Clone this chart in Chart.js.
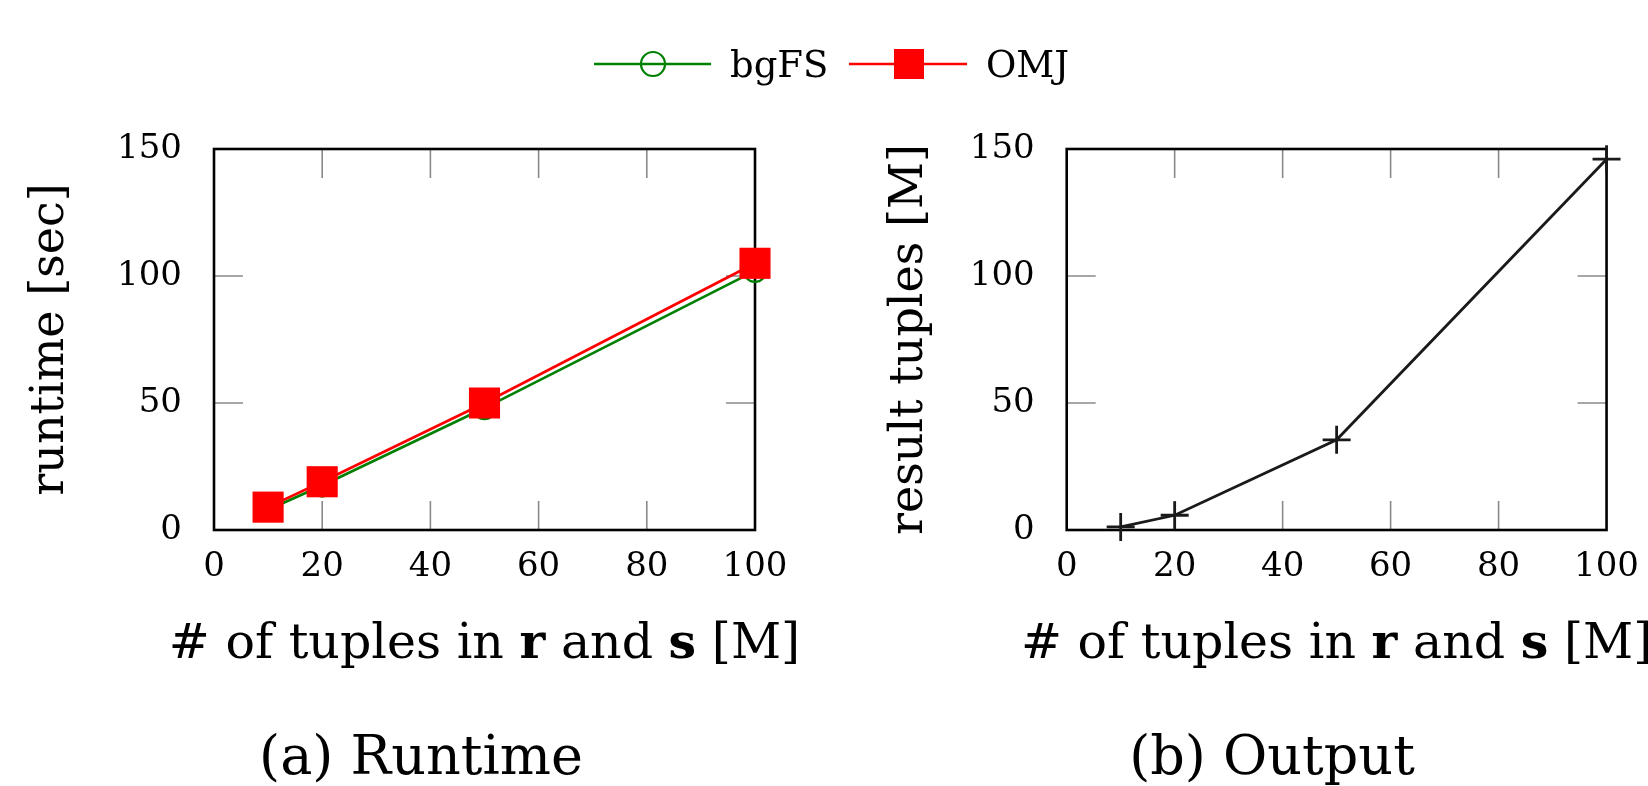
<!DOCTYPE html>
<html>
<head>
<meta charset="utf-8">
<script src="https://cdn.jsdelivr.net/npm/chart.js@4/dist/chart.umd.min.js"></script>
<style>
  html, body { margin: 0; padding: 0; background: #fff; }
  body { width: 1648px; height: 786px; position: relative; overflow: hidden; font-family: "DejaVu Serif", serif; }
  canvas { position: absolute; top: 0; }
  #c1 { left: 0; }
  #c2 { left: 824px; }
  .cap { position: absolute; top: 729px; font-size: 54px; line-height: 1; white-space: nowrap; color: #000; transform: translateX(-50%); }
  #legend { position: absolute; left: 0; top: 0; }
</style>
</head>
<body>
<canvas id="c1" width="824" height="786"></canvas>
<canvas id="c2" width="824" height="786"></canvas>
<svg id="legend" width="1648" height="120"></svg>
<div class="cap" id="capA" style="left:421px">(a) Runtime</div>
<div class="cap" id="capB" style="left:1272px">(b) Output</div>
<script>
// ---- data ----
const tupleCounts = [10, 20, 50, 100];          // # of tuples in r and s [M]
const bgfsRuntime = [8, 17.5, 48, 102];         // sec
const omjRuntime  = [9, 19, 50, 105];           // sec
const resultTuples = [1.2, 5.8, 35.5, 146];     // [M]
const seriesNames = ['bgFS', 'OMJ'];
const xTickStep = 20;
const yTickStep = 50;
// x-axis title, with the bold parts marked
const xTitleParts = [['# of tuples in ', false], ['r', true], [' and ', false], ['s', true], [' [M]', false]];
const xTitle = xTitleParts.map(p => p[0]).join('');
const yTitleA = 'runtime [sec]';
const yTitleB = 'result tuples [M]';

const FONT = '"DejaVu Serif", serif';
Chart.defaults.font.family = FONT;
Chart.defaults.color = '#000';

const pts = (ys) => tupleCounts.map((x, i) => ({x: x, y: ys[i]}));

const framePlugin = {
  id: 'frame',
  beforeDatasetsDraw(chart) {
    const {ctx, chartArea: a, scales: {x, y}} = chart;
    const L = 29;
    ctx.save();
    ctx.strokeStyle = '#8a8a8a';
    ctx.lineWidth = 1.6;
    ctx.beginPath();
    x.ticks.forEach(t => {
      if (t.value > x.min && t.value < x.max) {
        const px = x.getPixelForValue(t.value);
        ctx.moveTo(px, a.bottom); ctx.lineTo(px, a.bottom - L);
        ctx.moveTo(px, a.top); ctx.lineTo(px, a.top + L);
      }
    });
    y.ticks.forEach(t => {
      if (t.value > y.min && t.value < y.max) {
        const py = y.getPixelForValue(t.value);
        ctx.moveTo(a.left, py); ctx.lineTo(a.left + L, py);
        ctx.moveTo(a.right, py); ctx.lineTo(a.right - L, py);
      }
    });
    ctx.stroke();
    ctx.strokeStyle = '#000';
    ctx.lineWidth = 2.6;
    ctx.strokeRect(a.left, a.top, a.right - a.left, a.bottom - a.top);
    ctx.restore();
  }
};

// draws the x-axis title (mixed regular / bold) without width squeezing
const xTitlePlugin = {
  id: 'xTitleRich',
  afterDraw(chart) {
    const {ctx, scales: {x}} = chart;
    const size = 49;
    const cx = (x.left + x.right) / 2;
    const cy = 645;
    ctx.save();
    ctx.fillStyle = '#000';
    ctx.textBaseline = 'middle';
    ctx.textAlign = 'left';
    const fontOf = (b) => (b ? 'bold ' : '') + size + 'px ' + FONT;
    let total = 0;
    xTitleParts.forEach(([t, b]) => { ctx.font = fontOf(b); total += ctx.measureText(t).width; });
    let px = cx - total / 2;
    xTitleParts.forEach(([t, b]) => { ctx.font = fontOf(b); ctx.fillText(t, px, cy); px += ctx.measureText(t).width; });
    ctx.restore();
  }
};

function scalesFor(yTitle, yAxisWidth, yTitlePad) {
  return {
    x: {
      type: 'linear', min: 0, max: 100,
      grid: { display: false }, border: { display: false },
      ticks: { stepSize: xTickStep, padding: 9, font: { size: 34 }, maxRotation: 0, color: '#000' },
      title: { display: false, text: xTitle },
      afterFit(s) { s.height = 256; }
    },
    y: {
      type: 'linear', min: 0, max: 150,
      grid: { display: false }, border: { display: false },
      ticks: { stepSize: yTickStep, padding: 24, font: { size: 34 }, color: '#000' },
      title: { display: true, text: yTitle, font: { size: 46 }, padding: { top: yTitlePad, bottom: 0 }, color: '#000' },
      afterFit(s) { s.width = yAxisWidth; }
    }
  };
}

new Chart(document.getElementById('c1'), {
  type: 'line',
  data: {
    datasets: [
      { label: seriesNames[0], data: pts(bgfsRuntime), borderColor: '#008000', borderWidth: 2.7, order: 2,
        pointStyle: 'circle', pointRadius: 11, pointBorderWidth: 2.2, pointBorderColor: '#008000',
        pointBackgroundColor: 'rgba(0,0,0,0)', clip: false, tension: 0 },
      { label: seriesNames[1], data: pts(omjRuntime), borderColor: '#ff0000', borderWidth: 2.7, order: 1,
        pointStyle: 'rect', pointRadius: 22, pointBorderWidth: 0, pointBackgroundColor: '#ff0000',
        pointBorderColor: '#ff0000', clip: false, tension: 0 }
    ]
  },
  options: {
    responsive: false, animation: false, devicePixelRatio: 1,
    layout: { padding: { top: 149, right: 69, bottom: 0, left: 0 } },
    plugins: { legend: { display: false }, tooltip: { enabled: false } },
    scales: scalesFor(yTitleA, 214, 23)
  },
  plugins: [framePlugin, xTitlePlugin]
});

new Chart(document.getElementById('c2'), {
  type: 'line',
  data: {
    datasets: [
      { label: 'result tuples', data: pts(resultTuples), borderColor: '#1a1a1a', borderWidth: 2.8,
        pointStyle: 'cross', pointRadius: 14, pointBorderWidth: 2.8, pointBorderColor: '#1a1a1a',
        clip: false, tension: 0 }
    ]
  },
  options: {
    responsive: false, animation: false, devicePixelRatio: 1,
    layout: { padding: { top: 149, right: 40.4, bottom: 0, left: 0 } },
    plugins: { legend: { display: false }, tooltip: { enabled: false } },
    scales: scalesFor(yTitleB, 242.7, 58)
  },
  plugins: [framePlugin, xTitlePlugin]
});

// ---- legend (built from series names) ----
(function () {
  const NS = 'http://www.w3.org/2000/svg';
  const svg = document.getElementById('legend');
  const mk = (tag, attrs, text) => {
    const el = document.createElementNS(NS, tag);
    for (const k in attrs) el.setAttribute(k, attrs[k]);
    if (text) el.textContent = text;
    svg.appendChild(el);
    return el;
  };
  const y = 64;
  // bgFS
  mk('line', { x1: 594, y1: y, x2: 711, y2: y, stroke: '#008000', 'stroke-width': 2.6 });
  mk('circle', { cx: 653, cy: y, r: 12, fill: 'none', stroke: '#008000', 'stroke-width': 2.2 });
  mk('text', { x: 730, y: y + 13, 'font-family': 'DejaVu Serif', 'font-size': 37, fill: '#000' }, seriesNames[0]);
  // OMJ
  mk('line', { x1: 849, y1: y, x2: 967, y2: y, stroke: '#ff0000', 'stroke-width': 2.6 });
  mk('rect', { x: 894, y: y - 15, width: 30, height: 30, fill: '#ff0000' });
  mk('text', { x: 986, y: y + 13, 'font-family': 'DejaVu Serif', 'font-size': 37, fill: '#000' }, seriesNames[1]);
})();
</script>
</body>
</html>
